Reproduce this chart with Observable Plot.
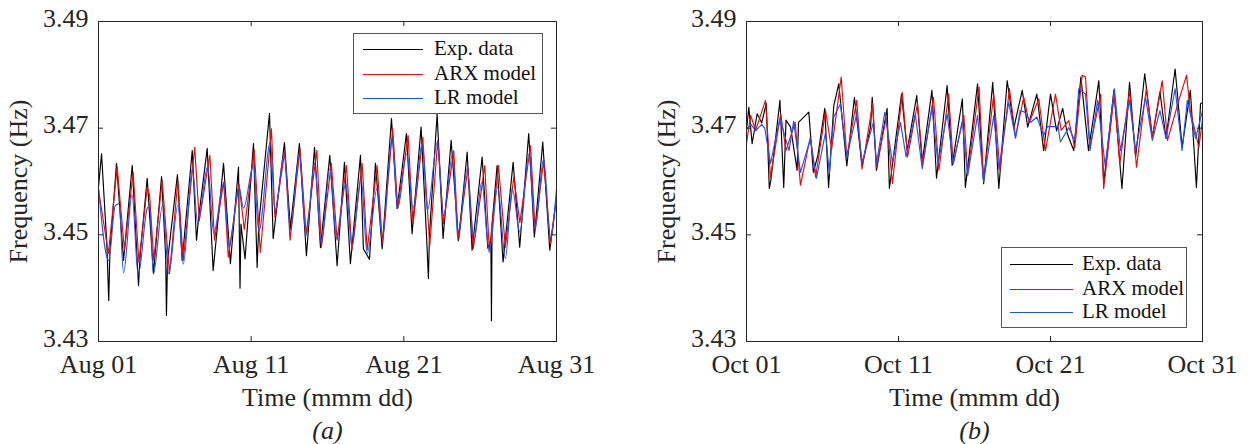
<!DOCTYPE html>
<html><head><meta charset="utf-8">
<script src="https://cdn.jsdelivr.net/npm/d3@7"></script>
<script src="https://cdn.jsdelivr.net/npm/@observablehq/plot@0.6"></script>
<style>
body{margin:0;background:#fff}
#wrap{position:relative;width:1253px;height:444px;font-family:"Liberation Serif",serif;color:#262626}
.panel{position:absolute;top:0}
.legend{position:absolute;background:#fff;border:1px solid #555;box-sizing:border-box}
.legend .ln{position:absolute;height:0;border-top:1.2px solid}
.legend .tx{position:absolute;font-size:21px;line-height:21px;transform:translateY(-52%);white-space:nowrap;color:#111}
</style></head>
<body><div id="wrap"></div>
<script>
// ---- tick labels / categories ----
const seriesNames = ["Exp. data", "ARX model", "LR model"];
const seriesColors = ["#000000", "#ff0000", "#1f52ff"];
const yTicks = [3.43, 3.45, 3.47, 3.49];
const augTicks = ["2020-08-01", "2020-08-11", "2020-08-21", "2020-08-31"];
const octTicks = ["2020-10-01", "2020-10-11", "2020-10-21", "2020-10-31"];
const xTitle = "Time (mmm dd)";
const yTitle = "Frequency (Hz)";
const panelTags = ["(a)", "(b)"];

// ---- series values: [day offset from first tick, frequency Hz] ----
const augExp = [[0,3.459],[0.2,3.4652],[0.55,3.448],[0.67,3.4377],[0.75,3.447],[1.18,3.4634],[1.64,3.4452],[2.21,3.463],[2.62,3.4405],[2.75,3.447],[3.19,3.4606],[3.6,3.4427],[4.13,3.4609],[4.4,3.446],[4.45,3.4349],[4.52,3.445],[5.17,3.4613],[5.48,3.4452],[6.14,3.4658],[6.42,3.449],[6.55,3.453],[7.12,3.4662],[7.51,3.4433],[8.19,3.4634],[8.64,3.4446],[9.17,3.4627],[9.27,3.44],[9.33,3.452],[9.6,3.4455],[10.15,3.4671],[10.39,3.4439],[10.5,3.452],[11.2,3.4728],[11.44,3.4493],[12.18,3.4673],[12.57,3.4512],[13.16,3.4671],[13.62,3.4461],[14.15,3.4664],[14.54,3.4476],[15.15,3.4649],[15.63,3.4442],[16.11,3.4636],[16.5,3.4446],[17.16,3.4649],[17.35,3.4474],[17.75,3.4454],[18.14,3.4634],[18.58,3.4474],[19.19,3.4718],[19.56,3.4549],[20.17,3.469],[20.54,3.4502],[21.13,3.4702],[21.5,3.449],[21.61,3.4418],[21.68,3.45],[22.18,3.4727],[22.57,3.4493],[23.1,3.4677],[23.58,3.4489],[24.15,3.4655],[24.47,3.4471],[25.13,3.4646],[25.5,3.4475],[25.7,3.449],[25.74,3.4339],[25.78,3.452],[26.11,3.463],[26.5,3.4449],[27.16,3.4636],[27.59,3.4477],[28.18,3.469],[28.55,3.4496],[29.1,3.4674],[29.56,3.4471],[30,3.457]];
const augArx = [[0,3.4585],[0.65,3.4465],[1.22,3.4627],[1.7,3.4471],[2.27,3.4617],[2.65,3.4448],[3.19,3.4589],[3.35,3.4575],[3.62,3.4452],[4.17,3.4602],[4.65,3.4427],[5.2,3.4602],[5.55,3.4452],[6.3,3.4664],[6.6,3.4527],[7.29,3.4649],[7.6,3.449],[8.2,3.4599],[8.5,3.4458],[9.2,3.4595],[9.55,3.451],[10.2,3.466],[10.6,3.4467],[11.33,3.4699],[11.55,3.4533],[12.2,3.4655],[12.55,3.449],[13.2,3.4662],[13.6,3.4502],[14.3,3.4658],[14.6,3.4477],[15.25,3.4634],[15.63,3.449],[16.24,3.463],[16.6,3.4471],[17.27,3.4634],[17.6,3.4471],[18.25,3.463],[18.6,3.4484],[19.27,3.4699],[19.6,3.455],[20.28,3.4686],[20.6,3.452],[21.24,3.4683],[21.7,3.448],[22.22,3.4677],[22.6,3.4521],[23.27,3.4658],[23.55,3.4493],[24.2,3.4625],[24.55,3.4474],[25.3,3.463],[25.6,3.4471],[26.2,3.463],[26.65,3.4477],[27.2,3.4608],[27.6,3.4523],[28.3,3.4667],[28.6,3.4508],[29.16,3.4639],[29.6,3.4484],[30,3.457]];
const augLr = [[0,3.4587],[0.66,3.4452],[1.1,3.4555],[1.35,3.4558],[1.64,3.4429],[2.2,3.4575],[2.6,3.4424],[3.2,3.455],[3.35,3.4553],[3.6,3.4427],[4.2,3.4556],[4.6,3.4427],[5.2,3.4556],[5.55,3.4445],[6.15,3.4624],[6.5,3.452],[7.15,3.4628],[7.55,3.4503],[8.2,3.4597],[8.55,3.4477],[9.2,3.459],[9.5,3.455],[10.15,3.463],[10.5,3.4506],[11.26,3.4674],[11.55,3.4545],[12.18,3.4653],[12.57,3.4508],[13.16,3.465],[13.6,3.4499],[14.15,3.4634],[14.6,3.4483],[15.15,3.4624],[15.6,3.4493],[16.2,3.4596],[16.6,3.4477],[17.2,3.4606],[17.6,3.4465],[18.25,3.4587],[18.6,3.449],[19.23,3.4681],[19.6,3.455],[20.2,3.4652],[20.6,3.4549],[21.2,3.4671],[21.55,3.4546],[22.2,3.4674],[22.6,3.4536],[23.2,3.4652],[23.55,3.4489],[24.15,3.4624],[24.6,3.4489],[25.1,3.4599],[25.6,3.4467],[26.15,3.459],[26.65,3.4456],[27.1,3.4587],[27.6,3.4505],[28.2,3.4652],[28.6,3.4511],[29.16,3.4643],[29.6,3.4493],[30,3.4586]];

const octExp = [[0,3.4696],[0.15,3.4739],[0.37,3.4671],[0.7,3.4727],[1.0,3.471],[1.3,3.4746],[1.5,3.4587],[1.6,3.4602],[2.2,3.4752],[2.45,3.4589],[2.6,3.4715],[2.9,3.4702],[3.33,3.4621],[3.42,3.4711],[4.1,3.473],[4.4,3.4617],[4.7,3.465],[5.15,3.4737],[5.4,3.4589],[5.74,3.4742],[6.07,3.4783],[6.6,3.4629],[7.1,3.4758],[7.6,3.4629],[8.16,3.4702],[8.27,3.4758],[8.55,3.4621],[8.9,3.468],[9.25,3.4737],[9.4,3.4587],[10.2,3.4764],[10.57,3.4658],[11.2,3.4761],[11.56,3.4636],[12.2,3.4771],[12.5,3.4606],[13.2,3.478],[13.53,3.463],[14.2,3.4755],[14.4,3.4589],[15.2,3.4783],[15.6,3.4596],[16.2,3.4786],[16.6,3.4587],[17.15,3.4789],[17.6,3.4702],[18.14,3.4771],[18.5,3.4702],[19.1,3.4764],[19.55,3.4658],[20.0,3.4764],[20.4,3.4695],[20.8,3.4737],[21.1,3.469],[21.53,3.4658],[22.0,3.4796],[22.5,3.4658],[23.18,3.4789],[23.5,3.4596],[24.17,3.4771],[24.7,3.4587],[25.2,3.4786],[25.6,3.4646],[26.2,3.4802],[26.7,3.4683],[27.2,3.4768],[27.6,3.4681],[28.2,3.4811],[28.66,3.4664],[29.2,3.4771],[29.6,3.4589],[29.87,3.4746],[30,3.4748]];
const octArx = [[0,3.4671],[0.27,3.4724],[0.6,3.4696],[1.25,3.4752],[1.58,3.4608],[2.25,3.4727],[2.6,3.4658],[3.2,3.4711],[3.55,3.4593],[4.2,3.4683],[4.55,3.4608],[5.2,3.4733],[5.6,3.466],[6.23,3.4796],[6.6,3.4646],[7.25,3.4752],[7.6,3.4623],[8.3,3.4746],[8.55,3.4627],[9.2,3.472],[9.6,3.4596],[10.25,3.4767],[10.6,3.4646],[11.25,3.4746],[11.6,3.4633],[12.3,3.4758],[12.66,3.4621],[13.3,3.4764],[13.6,3.4633],[14.3,3.4724],[14.55,3.4615],[15.3,3.4777],[15.6,3.4602],[16.27,3.4764],[16.67,3.4621],[17.3,3.4774],[17.7,3.4683],[18.24,3.4758],[18.6,3.471],[19.23,3.4755],[19.67,3.4658],[20.33,3.4764],[20.7,3.4696],[21.2,3.4714],[21.6,3.4664],[22.08,3.4799],[22.3,3.4796],[22.6,3.4664],[23.3,3.4764],[23.5,3.4587],[24.2,3.4764],[24.56,3.4633],[25.2,3.4771],[25.66,3.4627],[26.3,3.4774],[26.7,3.4683],[27.35,3.4789],[27.7,3.4677],[28.44,3.4752],[28.95,3.4799],[29.2,3.4733],[29.76,3.4664],[30,3.4715]];
const octLr = [[0,3.4698],[0.3,3.4707],[0.6,3.4695],[1.0,3.4707],[1.2,3.47],[1.58,3.4634],[2.2,3.4718],[2.8,3.4658],[3.1,3.4713],[3.55,3.4617],[4.2,3.468],[4.6,3.4606],[5.2,3.4692],[5.45,3.4615],[5.74,3.4721],[6.18,3.4746],[6.6,3.4646],[7.25,3.4727],[7.6,3.4636],[8.35,3.4711],[8.55,3.4633],[9.1,3.473],[9.6,3.4636],[10.13,3.4711],[10.5,3.4646],[11.1,3.4727],[11.56,3.4624],[12.2,3.4739],[12.6,3.4633],[13.2,3.4727],[13.6,3.4633],[14.2,3.4714],[14.55,3.4611],[15.2,3.4724],[15.6,3.4599],[16.27,3.4724],[16.6,3.4624],[17.25,3.4749],[17.7,3.4681],[18.0,3.4733],[18.3,3.473],[18.7,3.4711],[19.1,3.4721],[19.55,3.4686],[19.8,3.4703],[20.5,3.4703],[20.65,3.4674],[21.2,3.4701],[21.6,3.4677],[21.86,3.4774],[22.3,3.4764],[22.6,3.4658],[23.1,3.4752],[23.6,3.4629],[24.2,3.4774],[24.6,3.4658],[25.2,3.4752],[25.6,3.4658],[26.25,3.4758],[26.7,3.4677],[27.2,3.4733],[27.6,3.4681],[28.2,3.4774],[28.66,3.4658],[29.0,3.4752],[29.55,3.4681],[30,3.4733]];

// ---- build ----
const DAY = 864e5;
const wrap = document.getElementById("wrap");
const panels = [
  {ticks: augTicks, data: [augExp, augArx, augLr], curves: ["linear", "linear", "monotone-x"], left: 0, width: 640, ml: 98, mr: 84, tag: panelTags[0],
   legend: {left: 353, top: 33, w: 190, h: 81, rows: [15, 39.5, 63.5], l1: 9, l2: 69, tx: 80}},
  {ticks: octTicks, data: [octExp, octArx, octLr], curves: ["linear", "linear", "linear"], left: 640, width: 613, ml: 106, mr: 51, tag: panelTags[1],
   legend: {left: 1001, top: 247, w: 186, h: 81, rows: [16, 41, 64], l1: 8, l2: 71, tx: 80}}
];

for (const p of panels) {
  const tickDates = p.ticks.map(s => new Date(s + "T00:00:00Z"));
  const t0 = tickDates[0], t1 = tickDates[tickDates.length - 1];
  const rows = p.data.map((arr, i) => arr.map(([d, v]) => ({t: new Date(+t0 + d * DAY), v, s: seriesNames[i]})));
  const innerX = tickDates.slice(1, -1);
  const innerY = yTicks.slice(1, -1);
  const tl = 0.33 * DAY, ty = 0.00094;
  const svg = Plot.plot({
    width: p.width, height: 444,
    marginTop: 21, marginBottom: 103, marginLeft: p.ml, marginRight: p.mr,
    style: {fontFamily: "'Liberation Serif', serif", fontSize: "26px", color: "#262626", background: "transparent"},
    x: {type: "utc", domain: [t0, t1]},
    y: {domain: [yTicks[0], yTicks[yTicks.length - 1]]},
    marks: [
      ...rows.map((r, i) => Plot.line(r, {x: "t", y: "v", stroke: seriesColors[i], strokeWidth: 1.15, curve: p.curves[i]})),
      Plot.frame({stroke: "#262626", strokeWidth: 1}),
      Plot.ruleX(innerX, {x: d => d, y1: yTicks[0], y2: yTicks[0] + ty, stroke: "#262626"}),
      Plot.ruleX(innerX, {x: d => d, y1: yTicks[3], y2: yTicks[3] - ty, stroke: "#262626"}),
      Plot.ruleY(innerY, {y: d => d, x1: t0, x2: new Date(+t0 + tl), stroke: "#262626"}),
      Plot.ruleY(innerY, {y: d => d, x1: new Date(+t1 - tl), x2: t1, stroke: "#262626"}),
      Plot.axisX({ticks: tickDates, tickSize: 0, tickPadding: 13, tickFormat: d3.utcFormat("%b %d"), label: null}),
      Plot.axisY({ticks: yTicks, tickSize: 0, tickPadding: 10, dy: -3, tickFormat: d3.format(".2f"), label: null}),
      Plot.text([xTitle], {text: d => d, frameAnchor: "bottom", dy: 56, lineAnchor: "middle", textAnchor: "middle"}),
      Plot.text([yTitle], {text: d => d, frameAnchor: "left", dx: -80, rotate: -90, lineAnchor: "middle", textAnchor: "middle"}),
      Plot.text([p.tag], {text: d => d, frameAnchor: "bottom", dy: 89, lineAnchor: "middle", textAnchor: "middle", fontStyle: "italic"})
    ]
  });
  svg.classList.add("panel");
  svg.style.left = p.left + "px";
  wrap.appendChild(svg);

  const L = p.legend;
  const box = document.createElement("div");
  box.className = "legend";
  Object.assign(box.style, {left: L.left + "px", top: L.top + "px", width: L.w + "px", height: L.h + "px"});
  seriesNames.forEach((name, i) => {
    const ln = document.createElement("div");
    ln.className = "ln";
    Object.assign(ln.style, {left: L.l1 + "px", width: (L.l2 - L.l1) + "px", top: L.rows[i] + "px", borderTopColor: seriesColors[i]});
    const tx = document.createElement("div");
    tx.className = "tx";
    tx.textContent = name;
    Object.assign(tx.style, {left: L.tx + "px", top: L.rows[i] + "px"});
    box.appendChild(ln); box.appendChild(tx);
  });
  wrap.appendChild(box);
}
</script></body></html>
